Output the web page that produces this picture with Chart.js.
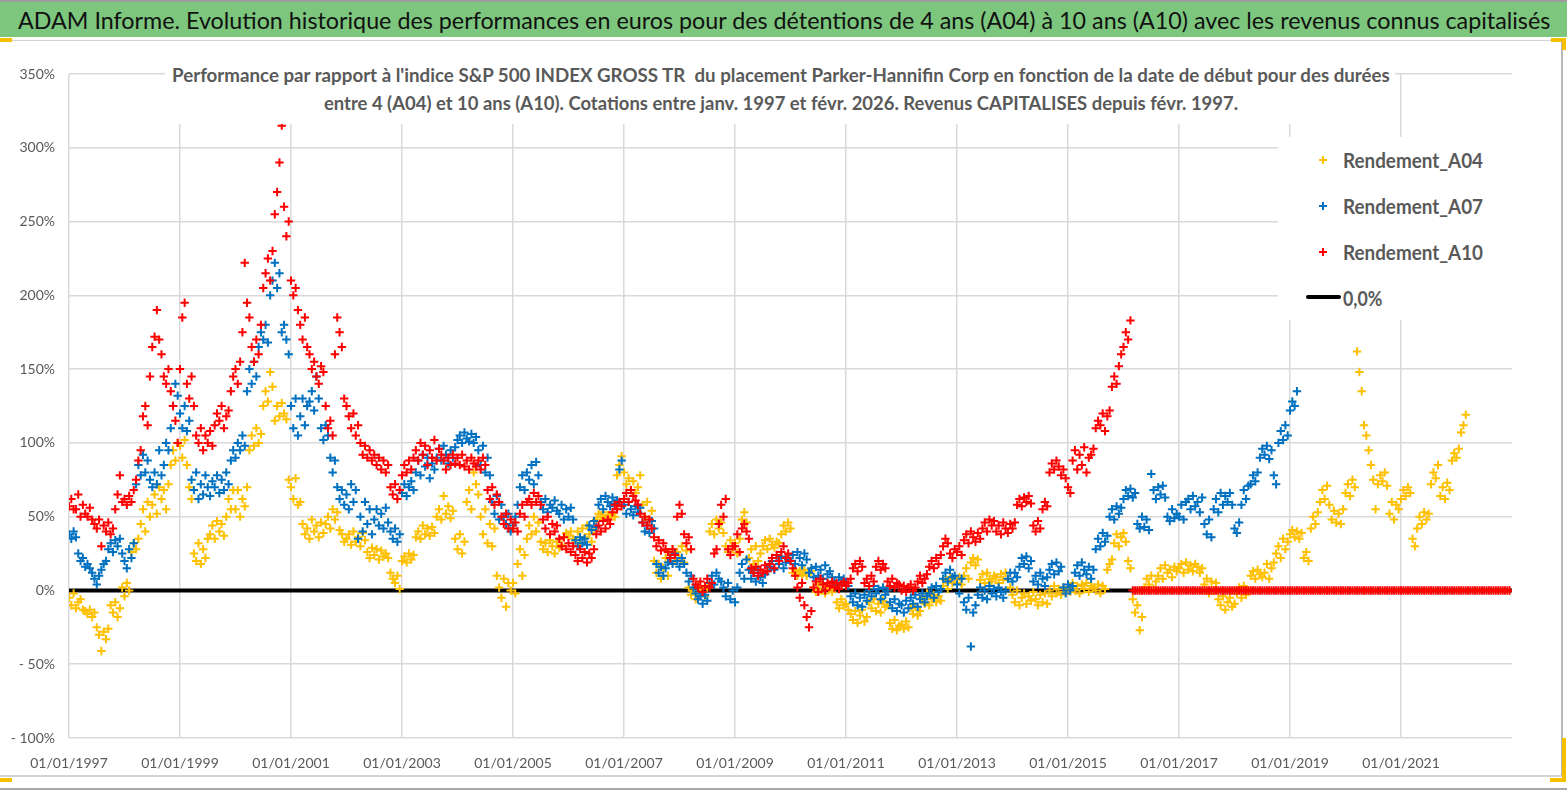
<!DOCTYPE html>
<html lang="fr">
<head>
<meta charset="utf-8">
<title>ADAM Informe - Parker-Hannifin Corp</title>
<script src="https://cdn.jsdelivr.net/npm/chart.js@4.4.1/dist/chart.umd.min.js"></script>
<style>
  html, body { margin:0; padding:0; }
  body { width:1567px; height:790px; position:relative; overflow:hidden; background:#fff;
         font-family:Lato,'Open Sans','Noto Sans',sans-serif; }
  .abs { position:absolute; }
  .fit { position:absolute; white-space:nowrap; transform-origin:left center; display:inline-block; }
  #topline { left:0; top:0; width:1567px; height:2px; background:#9c9c9c; }
  #header { left:0; top:2px; width:1567px; height:35px; background:#7dc67e; }
  #title { left:18px; top:0; line-height:35px; font-size:24px; color:#111; }
  #frame { left:0; top:40px; width:1563px; height:737px; box-sizing:border-box;
           border-top:1px solid #d4d4d4; border-right:2px solid #b8b8b8; border-bottom:2px solid #d4d4d4; }
  #chartWrap { left:0; top:41px; width:1560px; height:735px; }
  #subBox { left:165px; top:58px; width:1230px; height:66px; background:#fff; }
  .sub { font-weight:bold; font-size:18px; color:#595959; line-height:22px; }
  #legBox { left:1278px; top:137px; width:235px; height:183px; background:#fff; }
  .leg { font-size:21px; font-weight:bold; color:#595959; line-height:26px; }
  .mk { position:absolute; width:8px; height:8px; }
  .mk::before { content:''; position:absolute; left:0; top:3px; width:8px; height:2px; background:currentColor; }
  .mk::after { content:''; position:absolute; left:3px; top:0; width:2px; height:8px; background:currentColor; }
  .ybit { position:absolute; background:#f5c000; }
  #bottomline { left:0; top:788px; width:1567px; height:2px; background:#a8a8a8; }
</style>
</head>
<body>
<div id="topline" class="abs"></div>
<div id="header" class="abs"><span id="title" class="fit">ADAM Informe. Evolution historique des performances en euros pour des détentions de 4 ans (A04) à 10 ans (A10) avec les revenus connus capitalisés</span></div>
<div id="frame" class="abs"></div>
<div id="chartWrap" class="abs"><canvas id="chart" width="1560" height="735" style="width:1560px;height:735px;display:block"></canvas></div>

<div id="subBox" class="abs"></div>
<span id="sub1" class="fit sub">Performance par rapport à l'indice S&amp;P 500 INDEX GROSS TR&nbsp; du placement Parker-Hannifin Corp en fonction de la date de début pour des durées</span>
<span id="sub2" class="fit sub">entre 4 (A04) et 10 ans (A10). Cotations entre janv. 1997 et févr. 2026. Revenus CAPITALISES depuis févr. 1997.</span>

<div id="legBox" class="abs"></div>
<div class="mk" style="left:1319px;top:156px;color:#FFC000"></div>
<div class="mk" style="left:1319px;top:202px;color:#0070C0"></div>
<div class="mk" style="left:1319px;top:248px;color:#FF0000"></div>
<div class="abs" style="left:1306px;top:295px;width:35px;height:4px;background:#000;border-radius:2px"></div>
<span id="leg1" class="fit leg">Rendement_A04</span>
<span id="leg2" class="fit leg">Rendement_A07</span>
<span id="leg3" class="fit leg">Rendement_A10</span>
<span id="leg4" class="fit leg">0,0%</span>

<div class="ybit" style="left:0;top:38px;width:12px;height:4px"></div>
<div class="ybit" style="left:1551px;top:38px;width:15px;height:4px"></div>
<div class="ybit" style="left:1562px;top:38px;width:4px;height:12px"></div>
<div class="ybit" style="left:0;top:778px;width:12px;height:4px"></div>
<div class="ybit" style="left:1562px;top:738px;width:4px;height:44px"></div>
<div class="ybit" style="left:1550px;top:778px;width:16px;height:4px"></div>
<div id="bottomline" class="abs"></div>

<script>
// ---- Data (percent), semi-monthly samples starting 01/01/1997 ----
const START_YEAR = 1997;
const STEPS_PER_YEAR = 24;
const X_MIN = 1997;
const X_MAX = 2023;
const X_STEP = 2;
const Y_MIN = -100;
const Y_MAX = 350;
const Y_STEP = 50;

const seriesLabels = ['Rendement_A04', 'Rendement_A07', 'Rendement_A10', '0,0%'];

const rendementA10 = [
  57,62,55,55,65,50,58,52,50,56,48,45,42,48,30,44,40,46,38,42,55,65,78,60,
  62,58,64,60,68,75,88,95,118,125,112,145,165,172,190,170,160,145,140,150,135,125,115,100,
  150,185,195,140,130,145,125,105,100,110,95,105,100,108,98,112,120,115,125,110,118,122,135,145,
  150,140,155,175,222,195,185,165,155,170,160,180,205,215,225,210,230,255,270,290,315,260,240,250,
  210,200,205,190,180,170,185,165,160,150,155,145,140,152,148,125,110,115,105,160,185,175,165,130,
  125,118,110,120,105,112,100,92,98,90,95,88,92,85,90,82,88,80,85,70,65,72,62,68,
  78,85,80,88,82,90,95,88,100,92,98,85,95,90,102,88,96,92,88,82,90,85,92,86,
  90,85,92,84,88,82,90,86,84,88,82,90,85,68,62,70,58,65,60,50,45,52,42,48,
  42,46,40,52,58,50,60,62,58,66,60,64,58,48,42,50,38,45,40,44,35,30,36,28,
  32,26,30,24,20,28,22,26,19,25,22,28,38,44,40,47,42,48,45,53,58,55,60,57,
  62,66,60,68,64,61,58,52,46,50,44,48,42,36,30,34,27,32,28,26,22,28,24,50,
  58,52,38,32,36,28,8,4,2,6,-1,3,8,2,5,25,28,45,58,50,62,28,24,30,
  30,38,26,42,45,40,35,15,12,16,10,14,12,17,13,18,22,15,24,20,26,30,22,25,
  20,15,10,2,-5,5,-10,-18,-25,-14,2,6,-1,8,4,0,5,3,6,2,5,1,4,6,
  3,5,8,15,18,13,20,16,5,8,3,10,6,16,20,14,18,15,6,3,8,2,5,4,
  0,3,-1,2,4,0,2,6,10,5,8,11,16,20,15,22,18,24,30,35,32,25,22,28,
  26,30,24,34,38,32,40,36,33,39,35,42,46,40,48,44,47,40,44,38,46,42,39,45,
  42,46,58,62,57,63,60,64,59,44,40,47,42,55,60,57,80,86,82,88,84,78,82,76,
  70,66,88,95,82,92,85,97,80,90,92,96,110,115,112,120,108,118,122,138,145,140,152,160,
  165,175,170,183,0,0,0,0,0,0,0,0,0,0,0,0,0,0,0,0,0,0,0,0,
  0,0,0,0,0,0,0,0,0,0,0,0,0,0,0,0,0,0,0,0,0,0,0,0,
  0,0,0,0,0,0,0,0,0,0,0,0,0,0,0,0,0,0,0,0,0,0,0,0,
  0,0,0,0,0,0,0,0,0,0,0,0,0,0,0,0,0,0,0,0,0,0,0,0,
  0,0,0,0,0,0,0,0,0,0,0,0,0,0,0,0,0,0,0,0,0,0,0,0,
  0,0,0,0,0,0,0,0,0,0,0,0,0,0,0,0,0,0,0,0,0,0,0,0,
  0,0,0,0,0,0,0,0,0,0,0,0,0,0,0,0,0,0,0,0,0,0,0,0
];

const rendementA07 = [
  38,35,40,36,25,20,22,16,18,15,12,8,4,10,14,18,20,28,32,26,34,30,35,25,
  20,15,28,22,32,72,85,78,92,80,88,75,70,80,72,95,78,85,100,95,110,125,140,132,
  120,110,125,108,115,75,68,80,62,72,65,78,70,64,74,70,78,66,75,68,80,72,88,95,
  90,100,95,105,98,135,150,140,155,145,165,175,170,180,168,200,210,222,205,215,175,180,170,160,
  125,110,130,105,118,130,112,125,128,135,122,145,130,110,102,112,105,90,80,88,70,62,68,58,
  65,55,72,60,68,35,50,40,60,45,55,38,48,55,44,52,42,56,46,40,35,42,33,38,
  66,72,64,70,74,68,80,88,78,92,84,90,76,86,82,90,96,88,98,92,86,95,90,97,
  102,105,100,107,103,101,106,100,104,95,85,98,80,90,78,60,52,64,48,58,50,45,52,40,
  44,50,58,70,78,68,80,75,85,72,87,78,60,55,62,53,58,56,61,54,52,58,48,55,
  50,56,48,34,30,36,32,35,31,44,41,47,43,58,62,55,64,60,57,63,59,61,82,88,
  58,52,60,55,51,57,53,56,46,40,44,39,47,42,18,12,16,10,15,19,22,18,25,20,
  16,22,18,12,6,10,2,-2,-6,-4,-9,-3,-7,5,10,4,12,8,6,2,-4,5,-6,0,
  -8,2,12,18,8,21,14,8,12,6,14,9,5,11,13,16,20,14,22,18,23,15,19,21,
  20,24,18,26,22,17,25,21,12,15,9,16,10,14,8,17,11,13,9,6,4,9,5,8,
  5,3,-4,-8,-2,-10,-5,-11,-3,-7,0,-4,3,-2,1,-6,2,-3,0,-8,-12,-6,-14,-9,
  -10,-15,-7,-12,-5,-9,-3,-11,-6,-2,-8,-4,-2,2,-5,3,-1,1,8,12,6,14,9,10,
  4,-2,8,-8,-13,-5,-38,-15,-10,-3,2,-5,0,-6,3,-2,1,-4,2,-1,-5,0,8,12,
  6,12,9,16,22,18,23,15,20,6,10,4,12,8,3,9,14,18,11,19,13,16,2,-2,
  4,0,3,12,17,10,19,14,11,16,8,14,28,35,30,39,33,37,50,55,48,57,52,56,
  62,68,64,69,63,66,45,42,50,43,48,41,79,68,62,70,65,71,63,50,47,55,49,52,
  50,58,48,60,62,55,64,57,60,53,63,45,38,48,36,55,62,53,66,58,64,60,66,58,
  42,39,46,58,68,62,71,72,78,74,80,90,96,92,98,89,95,78,72,100,108,102,112,105,
  122,128,125,135
];

const rendementA04 = [
  -5,-10,-2,-12,-8,-6,-13,-14,-16,-13,-18,-15,-25,-30,-41,-28,-33,-26,-10,-15,-8,-18,-12,2,
  -4,5,0,26,32,28,35,45,55,40,60,50,58,65,52,70,62,68,55,72,85,95,88,100,
  98,90,102,85,70,62,25,20,32,18,28,22,35,38,44,35,47,40,45,37,50,62,55,68,
  55,68,50,62,57,70,95,105,98,110,100,106,125,135,128,148,138,115,125,118,127,120,116,75,
  70,62,76,58,60,45,38,42,35,48,40,44,36,46,39,45,50,42,55,48,53,41,38,33,
  35,38,31,40,33,36,30,39,34,26,22,29,24,28,21,27,23,25,22,12,8,5,10,1,
  20,23,19,25,21,24,36,40,35,44,38,42,37,43,39,50,55,48,64,52,57,49,54,35,
  28,38,25,33,60,68,55,80,72,65,50,38,55,32,45,30,42,10,2,-5,8,-11,5,0,
  5,-2,18,28,10,24,35,44,38,50,40,46,33,28,32,26,34,30,25,33,29,31,36,39,
  37,40,35,34,40,32,42,36,44,38,33,41,48,52,50,53,49,51,48,52,50,78,85,91,
  80,72,76,68,74,66,70,78,58,50,60,48,54,20,12,18,8,15,22,10,24,28,20,26,
  22,30,19,27,2,-3,0,-6,3,-2,1,-4,2,40,45,38,48,42,46,39,30,26,34,28,
  32,25,35,48,53,46,22,28,18,30,20,25,30,34,28,35,31,29,33,32,38,44,40,46,
  42,12,14,10,13,11,14,10,12,13,2,-1,4,0,5,-2,3,1,-1,2,-8,-12,-6,-10,
  -9,-13,-16,-20,-14,-22,-17,-13,-21,-18,-8,-12,-6,-14,-9,-15,-7,-11,-10,-22,-26,-20,-27,-24,
  -23,-26,-21,-25,-12,-16,-11,-17,-14,-5,-9,-2,-10,-6,-3,-8,-4,-7,3,7,1,9,5,8,
  5,9,4,10,15,8,19,22,17,21,7,11,5,12,8,6,10,9,5,11,7,12,8,2,
  -3,-8,0,-10,-5,-2,-9,-4,-7,-1,-6,-10,-3,-8,-2,-9,0,-4,3,-2,1,-3,2,-1,
  2,-1,5,0,3,-2,4,1,5,-1,3,2,0,4,-2,3,1,14,18,21,32,38,30,36,
  39,33,20,15,-6,-15,-10,-27,-18,2,8,4,10,1,6,10,15,8,17,12,14,9,16,13,
  15,18,12,19,14,17,13,18,16,12,15,4,8,-2,6,0,5,-6,-10,-4,-13,-8,-5,-11,
  -9,-2,2,-5,3,-3,0,10,13,8,14,11,9,12,18,8,15,19,25,30,22,35,28,33,
  38,41,36,40,35,39,22,26,20,42,50,45,53,60,68,62,71,58,48,54,46,52,45,55,
  66,72,64,75,70,162,148,135,112,105,95,85,75,55,72,78,74,80,71,52,60,48,58,55,
  62,68,64,70,66,35,30,42,50,45,53,48,52,72,80,76,85,64,70,62,73,68,88,93,
  90,96,107,112,119
];

const zeroLine = [0, 0]; // 0,0% reference at X_MIN and X_MAX

// ---- Build chart ----
function toPoints(vals) {
  return vals.map((v, i) => ({ x: START_YEAR + i / STEPS_PER_YEAR, y: v }));
}
const FONT = "Lato,'Open Sans','Noto Sans',sans-serif";
const GRID = '#d9d9d9';

function scatterSet(label, vals, color, order) {
  return {
    label: label, data: toPoints(vals), pointStyle: 'cross',
    pointRadius: 4.2, pointBorderWidth: 2,
    borderColor: color, backgroundColor: color, order: order, showLine: false
  };
}

new Chart(document.getElementById('chart'), {
  type: 'scatter',
  data: {
    datasets: [
      scatterSet(seriesLabels[2], rendementA10, '#FF0000', 0),
      scatterSet(seriesLabels[1], rendementA07, '#0070C0', 1),
      scatterSet(seriesLabels[0], rendementA04, '#FFC000', 2),
      {
        type: 'line', label: seriesLabels[3],
        data: [{ x: X_MIN, y: zeroLine[0] }, { x: X_MAX, y: zeroLine[1] }],
        borderColor: '#000', backgroundColor: '#000', borderWidth: 4,
        pointRadius: 0, showLine: true, order: 3, borderCapStyle: 'round'
      }
    ]
  },
  options: {
    responsive: false, animation: false, events: [],
    layout: { padding: { top: 33, right: 48, left: 0, bottom: 0 } },
    plugins: { legend: { display: false }, tooltip: { enabled: false }, title: { display: false } },
    scales: {
      x: {
        type: 'linear', min: X_MIN, max: X_MAX,
        afterFit: function (s) { s.height = 38; },
        border: { display: false },
        grid: {
          drawTicks: false, lineWidth: 1.5,
          color: function (c) { return (c.tick && c.tick.value >= X_MAX) ? 'rgba(0,0,0,0)' : GRID; }
        },
        ticks: {
          stepSize: X_STEP, autoSkip: false, maxRotation: 0, padding: 17,
          color: '#595959', font: { family: FONT, size: 14 },
          callback: function (v) { return v < X_MAX ? '01/01/' + v : ''; }
        }
      },
      y: {
        min: Y_MIN, max: Y_MAX,
        afterFit: function (s) { s.width = 69; },
        border: { display: false },
        grid: { drawTicks: false, lineWidth: 1.5, color: GRID },
        ticks: {
          stepSize: Y_STEP, padding: 14, color: '#595959', font: { family: FONT, size: 14 },
          callback: function (v) { return v < 0 ? '- ' + Math.abs(v) + '%' : v + '%'; }
        }
      }
    }
  }
});

// ---- Fit HTML texts to the reference widths (offsetWidth ignores transforms) ----
function place(id, left, centerY, width) {
  const el = document.getElementById(id);
  el.style.left = left + 'px';
  el.style.top = (centerY - el.offsetHeight / 2) + 'px';
  el.style.transform = 'scaleX(' + (width / el.offsetWidth).toFixed(4) + ')';
}
function layoutTexts() {
  const t = document.getElementById('title');
  t.style.transform = 'scaleX(' + (1532 / t.offsetWidth).toFixed(4) + ')';
  place('sub1', 172, 75, 1218);
  place('sub2', 324, 103, 914);
  place('leg1', 1343, 160, 140);
  place('leg2', 1343, 206, 140);
  place('leg3', 1343, 252, 140);
  place('leg4', 1343, 298, 39);
}
layoutTexts();
if (document.fonts && document.fonts.ready) { document.fonts.ready.then(layoutTexts); }
</script>
</body>
</html>
